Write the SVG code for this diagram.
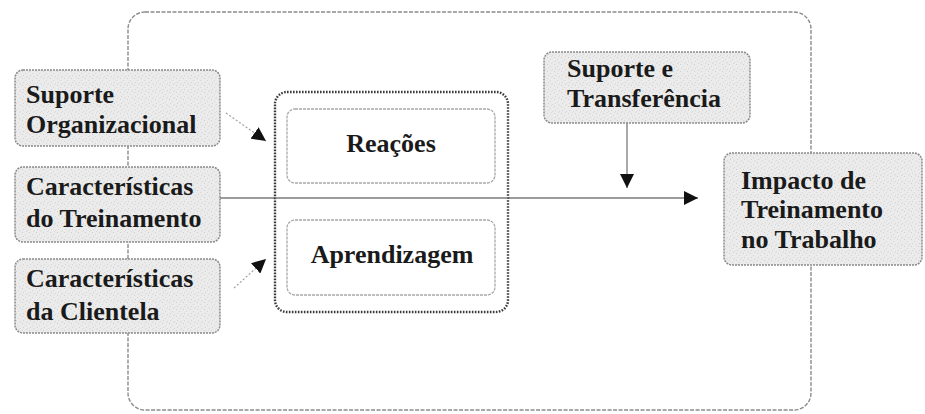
<svg xmlns="http://www.w3.org/2000/svg" width="925" height="414" viewBox="0 0 925 414">
  <defs>
    <pattern id="grain" width="7" height="7" patternUnits="userSpaceOnUse">
      <rect width="7" height="7" fill="#ebebeb"/>
      <rect x="1" y="1" width="1" height="1" fill="#cfcfcf"/>
      <rect x="4" y="3" width="1" height="1" fill="#d6d6d6"/>
      <rect x="2" y="5" width="1" height="1" fill="#d2d2d2"/>
      <rect x="6" y="6" width="1" height="1" fill="#d8d8d8"/>
      <rect x="5" y="0" width="1" height="1" fill="#dadada"/>
    </pattern>
    <marker id="head" viewBox="0 0 10 10" refX="10" refY="5" markerWidth="14" markerHeight="14" markerUnits="userSpaceOnUse" orient="auto">
      <path d="M0,0 L10,5 L0,10 Z" fill="#111"/>
    </marker>
  </defs>
  <style>
    .frame { fill: none; stroke: #8c8c8c; stroke-width: 1.4; stroke-dasharray: 4 1.5; }
    .box { fill: url(#grain); stroke: #8a8a8a; stroke-width: 1.5; stroke-dasharray: 2 1; }
    .group { fill: #fff; stroke: #3a3a3a; stroke-width: 2.4; stroke-dasharray: 1.6 1.4; }
    .inner { fill: #fff; stroke: #a8a8a8; stroke-width: 1.3; stroke-dasharray: 3 1; }
    .lbl { font-family: "Liberation Serif", "Times New Roman", serif; font-weight: bold; font-size: 26px; fill: #1a1a1a; }
    .mid { text-anchor: middle; }
    .conn { fill: none; stroke: #7a7a7a; stroke-width: 1.3; }
    .conn-light { fill: none; stroke: #a0a0a0; stroke-width: 1.2; stroke-dasharray: 2 2; }
  </style>

  <rect id="frame" class="frame" x="128" y="12" width="683" height="398" rx="17"/>

  <g id="connectors">
    <line class="conn" x1="220" y1="198" x2="698" y2="198" marker-end="url(#head)"/>
    <line class="conn-light" x1="226" y1="113" x2="266" y2="141" marker-end="url(#head)"/>
    <line class="conn-light" x1="234" y1="288" x2="266" y2="259" marker-end="url(#head)"/>
    <line class="conn" x1="627" y1="123" x2="627" y2="188" marker-end="url(#head)"/>
  </g>

  <g id="suporte-organizacional">
    <rect class="box" x="15" y="70" width="205" height="76" rx="8"/>
    <text class="lbl" x="26" y="103">Suporte</text>
    <text class="lbl" x="26" y="133">Organizacional</text>
  </g>

  <g id="caracteristicas-treinamento">
    <rect class="box" x="15" y="167" width="205" height="75" rx="8"/>
    <text class="lbl" x="26" y="195">Características</text>
    <text class="lbl" x="26" y="227">do Treinamento</text>
  </g>

  <g id="caracteristicas-clientela">
    <rect class="box" x="15" y="259" width="205" height="74" rx="8"/>
    <text class="lbl" x="26" y="287">Características</text>
    <text class="lbl" x="26" y="320">da Clientela</text>
  </g>

  <g id="resultados">
    <rect class="group" x="275" y="92" width="233" height="220" rx="12"/>
    <line class="conn" x1="275" y1="198" x2="508" y2="198"/>
  </g>

  <g id="reacoes">
    <rect class="inner" x="287" y="109" width="208" height="74" rx="8"/>
    <text class="lbl mid" x="391" y="152">Reações</text>
  </g>

  <g id="aprendizagem">
    <rect class="inner" x="287" y="220" width="208" height="75" rx="8"/>
    <text class="lbl mid" x="392" y="263">Aprendizagem</text>
  </g>

  <g id="suporte-transferencia">
    <rect class="box" x="544" y="52" width="206" height="71" rx="8"/>
    <text class="lbl" x="567" y="77">Suporte e</text>
    <text class="lbl" x="567" y="107">Transferência</text>
  </g>

  <g id="impacto">
    <rect class="box" x="724" y="153" width="198" height="112" rx="8"/>
    <text class="lbl" x="741" y="189">Impacto de</text>
    <text class="lbl" x="741" y="218">Treinamento</text>
    <text class="lbl" x="741" y="248">no Trabalho</text>
  </g>
</svg>
